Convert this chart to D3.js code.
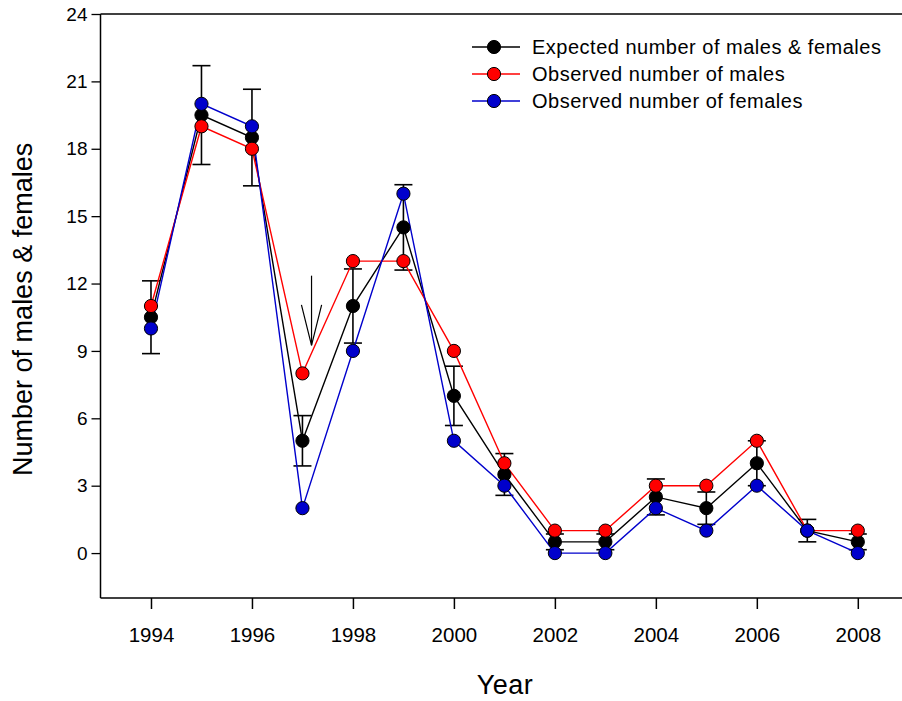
<!DOCTYPE html>
<html>
<head>
<meta charset="utf-8">
<script src="https://cdn.jsdelivr.net/npm/d3@7"></script>
<style>
  body { margin: 0; background: #fff; }
  text { font-family: "Liberation Sans", Arial, sans-serif; }
</style>
</head>
<body>
<div id="chart"></div>
<script>
const years    = [1994, 1995, 1996, 1997, 1998, 1999, 2000, 2001, 2002, 2003, 2004, 2005, 2006, 2007, 2008]
const expected = [10.5, 19.5, 18.5, 5, 11, 14.5, 7, 3.5, 0.5, 0.5, 2.5, 2, 4, 1, 0.5]
const errors   = [1.62, 2.2, 2.15, 1.12, 1.65, 1.9, 1.32, 0.93, 0.35, 0.35, 0.8, 0.72, 1.0, 0.5, 0.35]
const males    = [11, 19, 18, 8, 13, 13, 9, 4, 1, 1, 3, 3, 5, 1, 1]
const females  = [10, 20, 19, 2, 9, 16, 5, 3, 0, 0, 2, 1, 3, 1, 0]

const xTicks = [1994, 1996, 1998, 2000, 2002, 2004, 2006, 2008]
const yTicks = [0, 3, 6, 9, 12, 15, 18, 21, 24]

const seriesNames  = ['Expected number of males & females', 'Observed number of males', 'Observed number of females']
const seriesColors = ['#000000', '#ff0000', '#0000cc']

// arrow pointing at the 1997 males value (data units)
const arrow = { x: 1997.18, yFrom: 12.35, yTo: 9.25, headY: 11.05, headDx: 0.2 }

const WIDTH  = 902
const HEIGHT = 701

const svg = d3.select('#chart').append('svg')
    .attr('width', WIDTH)
    .attr('height', HEIGHT)

const x = d3.scaleLinear().domain([1993, 2008]).range([100.5, 857.8])
const y = d3.scaleLinear().domain([-2, 24]).range([598, 14])

// frame: left, bottom and top lines (right side runs off the picture)
const frame = svg.append('g').attr('stroke', '#000').attr('stroke-width', 1.5)
frame.append('line').attr('x1', x(1993)).attr('x2', x(1993)).attr('y1', y(24)).attr('y2', y(-2))
frame.append('line').attr('x1', x(1993)).attr('x2', WIDTH).attr('y1', y(-2)).attr('y2', y(-2))
frame.append('line').attr('x1', x(1993)).attr('x2', WIDTH).attr('y1', y(24)).attr('y2', y(24))

const yAxis = svg.append('g')
    .attr('transform', `translate(${x(1993)},0)`)
    .call(d3.axisLeft(y).tickValues(yTicks).tickSize(9).tickPadding(4))
yAxis.select('.domain').remove()
yAxis.selectAll('line').attr('stroke-width', 1.3)
yAxis.selectAll('text').attr('font-size', 19).attr('font-family', '"Liberation Sans", Arial, sans-serif').attr('fill', '#000')

const xAxis = svg.append('g')
    .attr('transform', `translate(0,${y(-2)})`)
    .call(d3.axisBottom(x).tickValues(xTicks).tickFormat(d3.format('d')).tickSize(11).tickPadding(18))
xAxis.select('.domain').remove()
xAxis.selectAll('line').attr('stroke-width', 1.5)
xAxis.selectAll('text').attr('font-size', 20.5).attr('font-family', '"Liberation Sans", Arial, sans-serif').attr('fill', '#000')

svg.append('text')
    .attr('x', 505).attr('y', 694)
    .attr('text-anchor', 'middle')
    .attr('font-size', 27)
    .attr('letter-spacing', 0.5)
    .text('Year')

svg.append('text')
    .attr('transform', `translate(32,${y(10.85)}) rotate(-90)`)
    .attr('text-anchor', 'middle')
    .attr('font-size', 27)
    .text('Number of males & females')

// error bars on expected values
const eb = svg.append('g').attr('stroke', '#000').attr('stroke-width', 1.6)
years.forEach((yr, i) => {
    const lo = y(expected[i] - errors[i]), hi = y(expected[i] + errors[i])
    eb.append('line').attr('x1', x(yr)).attr('x2', x(yr)).attr('y1', lo).attr('y2', hi)
    eb.append('line').attr('x1', x(yr) - 9).attr('x2', x(yr) + 9).attr('y1', lo).attr('y2', lo)
    eb.append('line').attr('x1', x(yr) - 9).attr('x2', x(yr) + 9).attr('y1', hi).attr('y2', hi)
})

// arrow
const ar = svg.append('g').attr('stroke', '#000').attr('stroke-width', 1.2).attr('fill', 'none')
ar.append('line').attr('x1', x(arrow.x)).attr('x2', x(arrow.x)).attr('y1', y(arrow.yFrom)).attr('y2', y(arrow.yTo))
ar.append('path').attr('d', d3.line()([
    [x(arrow.x - arrow.headDx), y(arrow.headY)],
    [x(arrow.x), y(arrow.yTo)],
    [x(arrow.x + arrow.headDx), y(arrow.headY)]
]))

const line = d3.line().x((d, i) => x(years[i])).y(d => y(d))
const allSeries = [expected, males, females]

allSeries.forEach((vals, s) => {
    svg.append('path')
        .attr('d', line(vals))
        .attr('fill', 'none')
        .attr('stroke', seriesColors[s])
        .attr('stroke-width', 1.4)
})
allSeries.forEach((vals, s) => {
    svg.append('g').selectAll('circle')
        .data(vals)
        .join('circle')
        .attr('cx', (d, i) => x(years[i]))
        .attr('cy', d => y(d))
        .attr('r', 6.6)
        .attr('fill', seriesColors[s])
        .attr('stroke', '#000')
        .attr('stroke-width', 1)
})

// legend
const legend = svg.append('g').attr('transform', 'translate(472,47)')
seriesNames.forEach((name, i) => {
    const row = legend.append('g').attr('transform', `translate(0,${i * 27})`)
    row.append('line').attr('x1', 0).attr('x2', 48).attr('stroke', seriesColors[i]).attr('stroke-width', 1.4)
    row.append('circle').attr('cx', 22).attr('r', 6.6).attr('fill', seriesColors[i]).attr('stroke', '#000')
    row.append('text').attr('x', 60).attr('y', 7).attr('font-size', 20).attr('letter-spacing', 0.5).text(name)
})
</script>
</body>
</html>
